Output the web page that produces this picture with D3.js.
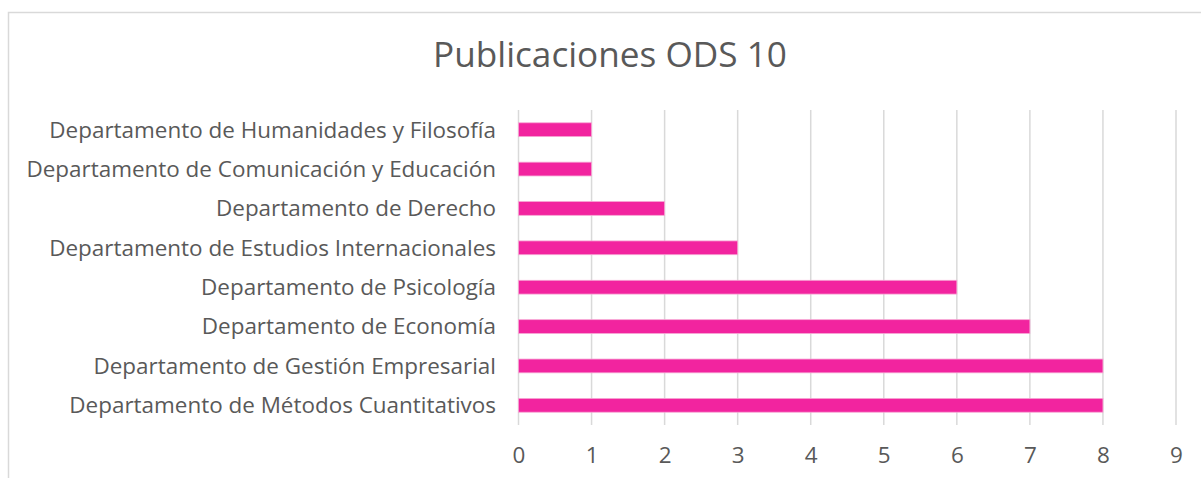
<!DOCTYPE html>
<html><head><meta charset="utf-8">
<script src="https://cdn.jsdelivr.net/npm/d3@7"></script>
<style>html,body{margin:0;padding:0;background:#fff;overflow:hidden}</style>
</head><body>
<svg id="chart" width="1201" height="478"></svg>
<script>
const title = "Publicaciones ODS 10";
const categories = [
  "Departamento de Humanidades y Filosofía",
  "Departamento de Comunicación y Educación",
  "Departamento de Derecho",
  "Departamento de Estudios Internacionales",
  "Departamento de Psicología",
  "Departamento de Economía",
  "Departamento de Gestión Empresarial",
  "Departamento de Métodos Cuantitativos"
];
const values = [1, 1, 2, 3, 6, 7, 8, 8];
const xTicks = [0, 1, 2, 3, 4, 5, 6, 7, 8, 9];

(function(){
const font = "Open Sans, Lato, sans-serif";
const textColor = "#595959";
const svg = d3.select("#chart");

svg.append("rect").attr("x", 8.5).attr("y", 12.5).attr("width", 1300).attr("height", 600)
  .attr("fill", "#fff").attr("stroke", "#d9d9d9").attr("stroke-width", 1.5);

const pl = 518.5, pr = 1176, pt = 110, pb = 425;
const x = d3.scaleLinear().domain([0, 9]).range([pl, pr]);
const y = d3.scaleBand().domain(categories).range([pt, pb]).paddingInner(0.65).paddingOuter(0.325);

svg.append("g").selectAll("line").data(xTicks).join("line")
  .attr("x1", d => x(d)).attr("x2", d => x(d)).attr("y1", pt).attr("y2", pb)
  .attr("stroke", "#d9d9d9").attr("stroke-width", 1.5);

svg.append("g").selectAll("rect").data(values).join("rect")
  .attr("x", x(0)).attr("y", (d, i) => y(categories[i]))
  .attr("width", d => x(d) - x(0)).attr("height", y.bandwidth())
  .attr("fill", "#f2249f").attr("stroke", "#f7a6d4").attr("stroke-width", 0.8);

const labels = svg.append("g").selectAll("text").data(categories).join("text")
  .attr("x", 496).attr("y", d => y(d) + y.bandwidth() / 2)
  .attr("dy", "0.35em").attr("text-anchor", "end")
  .attr("font-family", font).attr("font-size", 20).attr("fill", textColor).text(d => d);
let maxW = 0; labels.each(function(){ maxW = Math.max(maxW, this.getComputedTextLength()); });
const labSize = 20 * 470 / maxW;
labels.attr("font-size", labSize);

const xAxis = d3.axisBottom(x).tickValues(xTicks).tickSize(0).tickPadding(0);
const gx = svg.append("g").attr("transform", `translate(0,${pb})`).call(xAxis);
gx.select(".domain").remove();
gx.selectAll("text").attr("font-family", font).attr("font-size", labSize).attr("fill", textColor)
  .attr("y", 30).attr("dy", "0.35em");

const t = svg.append("text").attr("x", 610).attr("y", 55).attr("dy", "0.35em")
  .attr("text-anchor", "middle").attr("font-family", font).attr("font-size", 32)
  .attr("fill", textColor).text(title);
const tw = t.node().getComputedTextLength();
t.attr("font-size", 32 * 354 / tw);
})();
</script>
</body></html>
